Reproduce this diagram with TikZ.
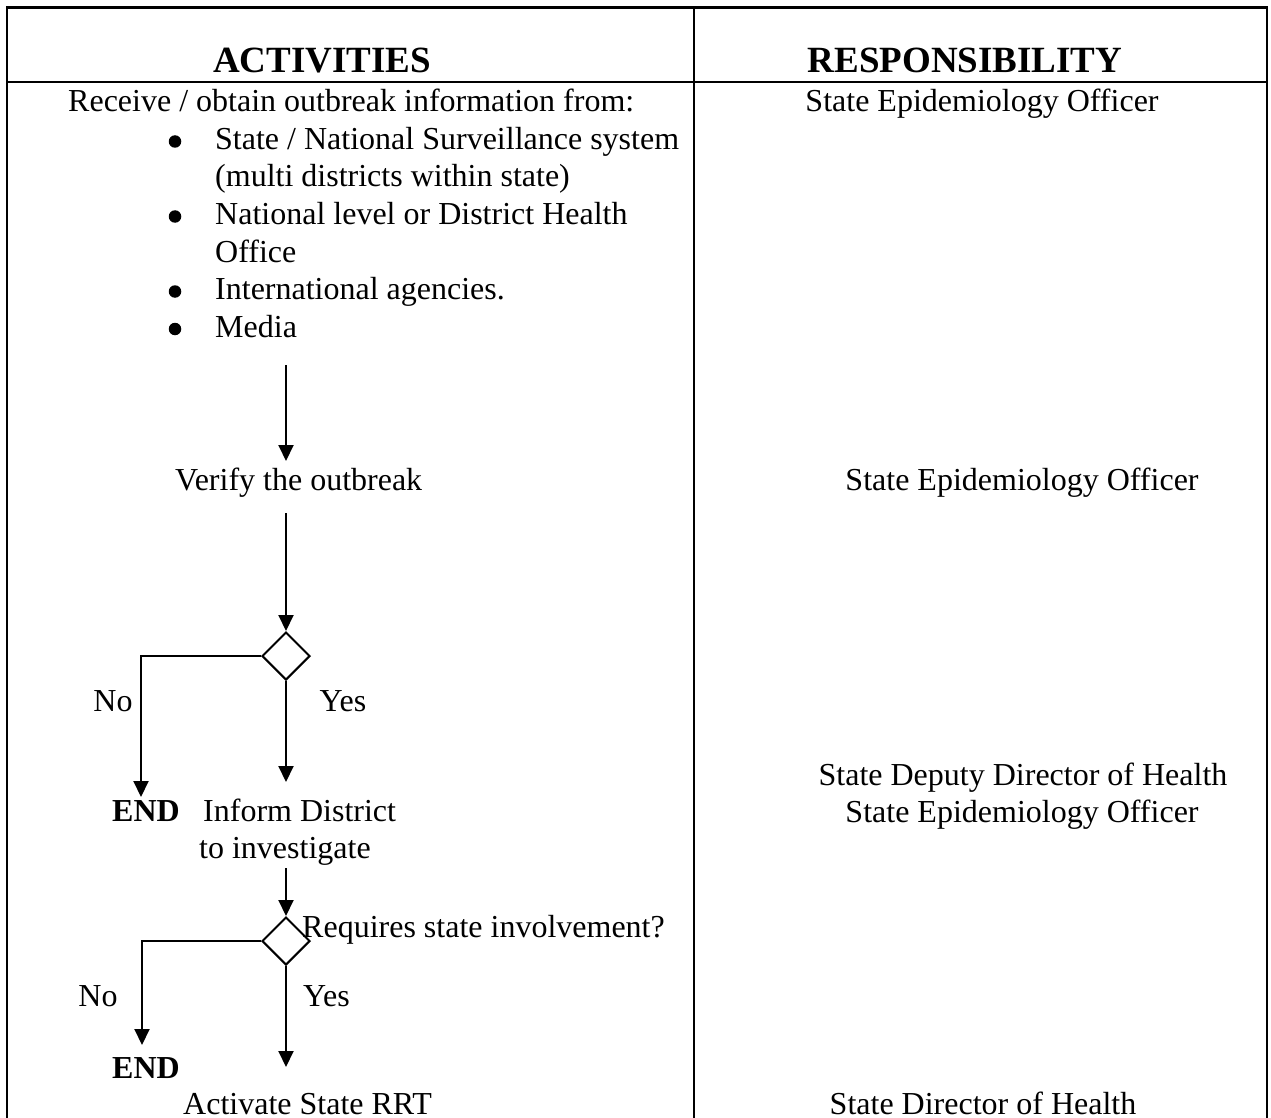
\documentclass[tikz,border=0pt]{standalone}
\usepackage{fontspec}
\setmainfont{Liberation Serif}
\usetikzlibrary{shapes.geometric,arrows.meta}
\begin{document}
\begin{tikzpicture}[x=1pt,y=-1pt,
  txt/.style={inner sep=0pt, font=\fontsize{32}{37.5}\selectfont},
  lt/.style={txt, anchor=base west},
  ct/.style={txt, anchor=base},
  bd/.style={font=\fontsize{32}{37.5}\selectfont\bfseries},
  hd/.style={txt, anchor=base, font=\fontsize{37}{42}\selectfont\bfseries},
  bul/.style={circle, fill, minimum size=12.5pt, inner sep=0pt},
  frame/.style={line width=2.5pt},
  conn/.style={line width=2pt},
  arr/.style={conn, -{Triangle[length=16pt,width=15pt]}},
  dec/.style={draw, diamond, shape aspect=1, minimum width=48pt, minimum height=48pt, inner sep=0pt, line width=2pt}]
\useasboundingbox (0,0) rectangle (1271,1118);
% table frame
\draw[frame] (7,1118) -- (7,7.5) -- (1267,7.5) -- (1267,1118);
\draw[frame] (7,82) -- (1267,82);
\draw[frame] (694,7.5) -- (694,1118);
% headers
\node[hd] (hact) at (322,73) {ACTIVITIES};
\node[hd] (hres) at (965,73) {RESPONSIBILITY};
% activities text
\node[lt] (recv) at (68,112) {Receive / obtain outbreak information from:};
\node[bul] (b1) at (175,141.5) {};
\node[lt] (l1) at (215,149.5) {State / National Surveillance system};
\node[lt] (l2) at (215,187) {(multi districts within state)};
\node[bul] (b2) at (175,216.5) {};
\node[lt] (l3) at (215,224.5) {National level or District Health};
\node[lt] (l4) at (215,262) {Office};
\node[bul] (b3) at (175,291.5) {};
\node[lt] (l5) at (215,299.5) {International agencies.};
\node[bul] (b4) at (175,329) {};
\node[lt] (l6) at (215,337) {Media};
\node[lt] (verify) at (175,490) {Verify the outbreak};
\node[ct] (no1) at (113,711) {No};
\node[ct] (yes1) at (343,711) {Yes};
\node[lt,bd] (end1) at (112,821) {END};
\node[lt] (inform) at (203,821) {Inform District};
\node[lt] (invest) at (199,858.5) {to investigate};
\node[lt] (req) at (302,937) {Requires state involvement?};
\node[ct] (no2) at (98,1006) {No};
\node[lt] (yes2) at (303,1006) {Yes};
\node[lt,bd] (end2) at (112,1078) {END};
\node[lt] (rrt) at (183,1114) {Activate State RRT};
% responsibility text
\node[ct] (r1) at (982,112) {State Epidemiology Officer};
\node[ct] (r2) at (1022,490) {State Epidemiology Officer};
\node[ct] (r3) at (1023,785) {State Deputy Director of Health};
\node[ct] (r4) at (1022,822.5) {State Epidemiology Officer};
\node[ct] (r5) at (983,1114) {State Director of Health};
% decisions
\node[dec] (d1) at (286,656) {};
\node[dec] (d2) at (286,941) {};
% connector points
\coordinate (a1s) at (286,365);
\coordinate (a1e) at (286,461);
\coordinate (a2s) at (286,513);
\coordinate (n1c) at (141,656);
\coordinate (n1e) at (141,797);
\coordinate (y1e) at (286,782);
\coordinate (a3s) at (286,868);
\coordinate (n2c) at (142,941);
\coordinate (n2e) at (142,1045);
\coordinate (y2e) at (286,1067);
% connectors
\draw[arr] (a1s) -- (a1e);
\draw[arr] (a2s) -- (d1.north);
\draw[arr] (d1.west) -- (n1c) -- (n1e);
\draw[arr] (d1.south) -- (y1e);
\draw[arr] (a3s) -- (d2.north);
\draw[arr] (d2.west) -- (n2c) -- (n2e);
\draw[arr] (d2.south) -- (y2e);
\end{tikzpicture}
\end{document}
